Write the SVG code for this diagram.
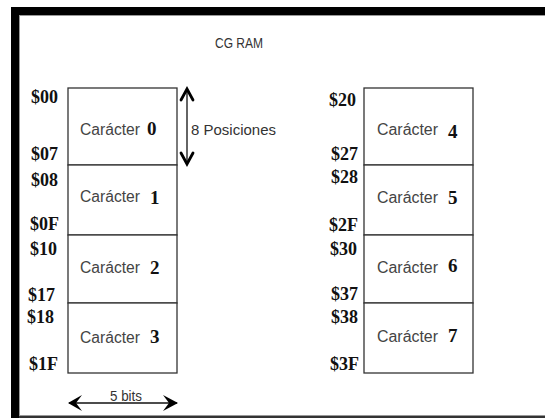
<svg xmlns="http://www.w3.org/2000/svg" width="545" height="418" viewBox="0 0 545 418">
<defs>
<style>
.box{fill:#fff;stroke:#333;stroke-width:1.3}
.addr{font-family:"Liberation Serif",serif;font-weight:bold;font-size:18px;fill:#111}
.car{font-family:"Liberation Sans",sans-serif;font-size:16px;fill:#444}
.num{font-family:"Liberation Serif",serif;font-weight:bold;font-size:19px;fill:#111}
.lbl{font-family:"Liberation Sans",sans-serif;font-size:15px;fill:#333}
.arr{stroke:#111;stroke-width:1.3;fill:none}
.head{stroke:#000;stroke-width:2.8;fill:none;stroke-linecap:round;stroke-linejoin:miter}
</style>
</defs>
<rect x="0" y="0" width="545" height="418" fill="#fff"/>
<g id="frame">
<rect x="11" y="7" width="534" height="8" fill="#000"/>
<rect x="11" y="7" width="8" height="411" fill="#000"/>
<rect x="19" y="415.5" width="526" height="2.5" fill="#333"/>
<line x1="19.5" y1="15" x2="19.5" y2="416" stroke="#999" stroke-width="1"/>
<line x1="19" y1="15.5" x2="545" y2="15.5" stroke="#999" stroke-width="1"/>
</g>
<text id="title" x="215" y="48" class="lbl" font-size="16" textLength="48" lengthAdjust="spacingAndGlyphs" fill="#222">CG RAM</text>
<g id="c0"><rect class="box" x="68" y="88" width="109" height="77"/><text class="car" x="80" y="135" textLength="60" lengthAdjust="spacingAndGlyphs">Carácter</text><text class="num" x="147" y="135">0</text></g>
<g id="c1"><rect class="box" x="68" y="165" width="109" height="70"/><text class="car" x="80" y="202" textLength="60" lengthAdjust="spacingAndGlyphs">Carácter</text><text class="num" x="150" y="204">1</text></g>
<g id="c2"><rect class="box" x="68" y="235" width="109" height="68"/><text class="car" x="80" y="273" textLength="60" lengthAdjust="spacingAndGlyphs">Carácter</text><text class="num" x="150" y="274">2</text></g>
<g id="c3"><rect class="box" x="68" y="303" width="109" height="70"/><text class="car" x="80" y="343" textLength="60" lengthAdjust="spacingAndGlyphs">Carácter</text><text class="num" x="150" y="343">3</text></g>
<g id="c4"><rect class="box" x="364" y="88" width="109" height="77"/><text class="car" x="377" y="135" textLength="61" lengthAdjust="spacingAndGlyphs">Carácter</text><text class="num" x="448" y="138">4</text></g>
<g id="c5"><rect class="box" x="364" y="165" width="109" height="70"/><text class="car" x="377" y="203" textLength="61" lengthAdjust="spacingAndGlyphs">Carácter</text><text class="num" x="448" y="204">5</text></g>
<g id="c6"><rect class="box" x="364" y="235" width="109" height="68"/><text class="car" x="377" y="273" textLength="61" lengthAdjust="spacingAndGlyphs">Carácter</text><text class="num" x="448" y="272">6</text></g>
<g id="c7"><rect class="box" x="364" y="303" width="109" height="70"/><text class="car" x="377" y="342" textLength="61" lengthAdjust="spacingAndGlyphs">Carácter</text><text class="num" x="448" y="342">7</text></g>
<g id="addresses">
<text class="addr" x="31" y="103">$00</text>
<text class="addr" x="31" y="160">$07</text>
<text class="addr" x="31" y="186">$08</text>
<text class="addr" x="30" y="230">$0F</text>
<text class="addr" x="30" y="255">$10</text>
<text class="addr" x="28" y="301">$17</text>
<text class="addr" x="27" y="323">$18</text>
<text class="addr" x="29" y="370">$1F</text>
<text class="addr" x="329" y="106">$20</text>
<text class="addr" x="331" y="160">$27</text>
<text class="addr" x="331" y="183">$28</text>
<text class="addr" x="329" y="231">$2F</text>
<text class="addr" x="330" y="255">$30</text>
<text class="addr" x="331" y="300">$37</text>
<text class="addr" x="331" y="323">$38</text>
<text class="addr" x="330" y="370">$3F</text>
</g>
<g id="connectors">
<line class="arr" x1="187" y1="89" x2="187" y2="164"/>
<polyline class="head" points="181,100 187,89 193,100"/>
<polyline class="head" points="181,153 187,164 193,153"/>
<line class="arr" x1="69" y1="403" x2="177" y2="403"/>
<polygon points="68,403 82,395 76,403 82,411" fill="#000"/>
<polygon points="178,403 163,395 169,403 163,411" fill="#000"/>
</g>
<text id="pos" x="191" y="135" class="lbl" textLength="85" lengthAdjust="spacingAndGlyphs">8 Posiciones</text>
<text id="bits" x="110" y="401" class="lbl" textLength="32" lengthAdjust="spacingAndGlyphs">5 bits</text>
</svg>
